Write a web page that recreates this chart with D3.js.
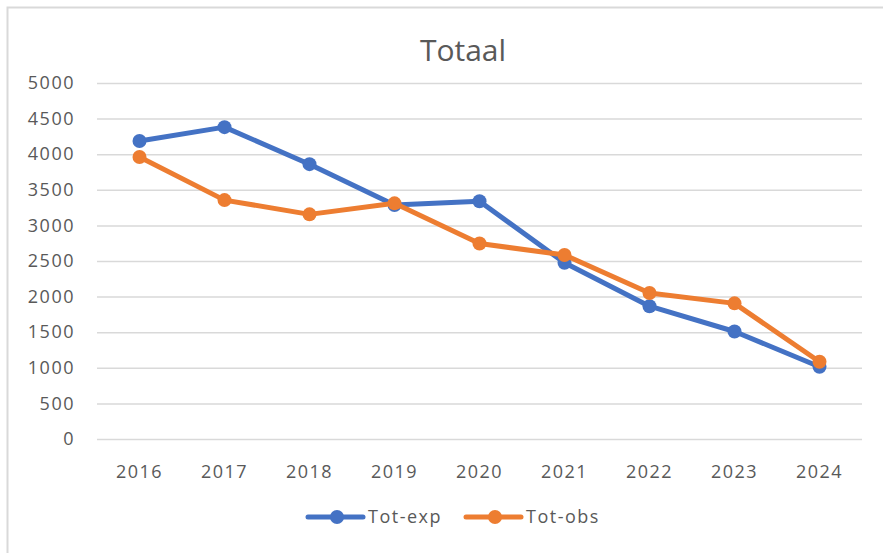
<!DOCTYPE html>
<html>
<head>
<meta charset="utf-8">
<script src="https://cdn.jsdelivr.net/npm/d3@7"></script>
<style>
  body { margin: 0; background: #fff; }
  text { font-family: "Segoe UI", "Open Sans", "Noto Sans", sans-serif; fill: #595959; }
</style>
</head>
<body>
<svg id="chart" width="883" height="553"></svg>
<script>
const years = ["2016", "2017", "2018", "2019", "2020", "2021", "2022", "2023", "2024"];
const totExp = [4185, 4380, 3860, 3285, 3340, 2475, 1865, 1510, 1015];
const totObs = [3960, 3355, 3155, 3310, 2745, 2585, 2050, 1905, 1085];
const yTicks = [0, 500, 1000, 1500, 2000, 2500, 3000, 3500, 4000, 4500, 5000];

const series = [
    {name: "Tot-exp", values: totExp, color: "#4472c4"},
    {name: "Tot-obs", values: totObs, color: "#ed7d31"}
];

const svg = d3.select("#chart");
const margin = {top: 83, right: 21, bottom: 114, left: 97};
const width = +svg.attr("width") - margin.left - margin.right;
const height = +svg.attr("height") - margin.top - margin.bottom;

// outer chart border
svg.append("rect")
    .attr("x", 7.5).attr("y", 7.5)
    .attr("width", 900).attr("height", 600)
    .attr("fill", "none")
    .attr("stroke", "#d9d9d9")
    .attr("stroke-width", 2);

svg.append("text")
    .attr("x", 463)
    .attr("y", 61)
    .attr("text-anchor", "middle")
    .attr("font-size", 30)
    .text("Totaal");

const x = d3.scaleBand().domain(years).range([0, width]);
const y = d3.scaleLinear().domain([0, 5000]).range([height, 0]);

const g = svg.append("g")
    .attr("transform", `translate(${margin.left},${margin.top})`);

// gridlines
g.append("g")
    .call(d3.axisLeft(y).tickValues(yTicks).tickSize(-width).tickFormat(""))
    .call(a => a.select(".domain").remove())
    .selectAll("line")
    .attr("stroke", "#d9d9d9")
    .attr("stroke-width", 1.5);

g.append("g")
    .call(d3.axisLeft(y).tickValues(yTicks).tickSize(0).tickPadding(22).tickFormat(d3.format("d")))
    .call(a => a.select(".domain").remove())
    .selectAll("text")
    .attr("font-size", 18)
    .attr("letter-spacing", 1.5);

g.append("g")
    .attr("transform", `translate(0,${height})`)
    .call(d3.axisBottom(x).tickSize(0).tickPadding(26))
    .call(a => a.select(".domain").remove())
    .selectAll("text")
    .attr("font-size", 18)
    .attr("letter-spacing", 1.5);

const line = d3.line()
    .x((d, i) => x(years[i]) + x.bandwidth() / 2)
    .y(d => y(d));

series.forEach(s => {
    g.append("path")
        .datum(s.values)
        .attr("fill", "none")
        .attr("stroke", s.color)
        .attr("stroke-width", 5)
        .attr("stroke-linejoin", "round")
        .attr("stroke-linecap", "round")
        .attr("d", line);
    g.selectAll(null)
        .data(s.values)
        .join("circle")
        .attr("cx", (d, i) => x(years[i]) + x.bandwidth() / 2)
        .attr("cy", d => y(d))
        .attr("r", 7)
        .attr("fill", s.color);
});

const legend = svg.append("g")
    .selectAll("g")
    .data(series)
    .join("g")
    .attr("transform", (d, i) => `translate(${308 + i * 158},517)`);

legend.append("line")
    .attr("x1", 0).attr("x2", 55)
    .attr("stroke", d => d.color)
    .attr("stroke-width", 5)
    .attr("stroke-linecap", "round");

legend.append("circle")
    .attr("cx", 29)
    .attr("r", 7)
    .attr("fill", d => d.color);

legend.append("text")
    .attr("x", 60)
    .attr("dy", "0.35em")
    .attr("font-size", 18)
    .attr("letter-spacing", 1.5)
    .text(d => d.name);
</script>
</body>
</html>
